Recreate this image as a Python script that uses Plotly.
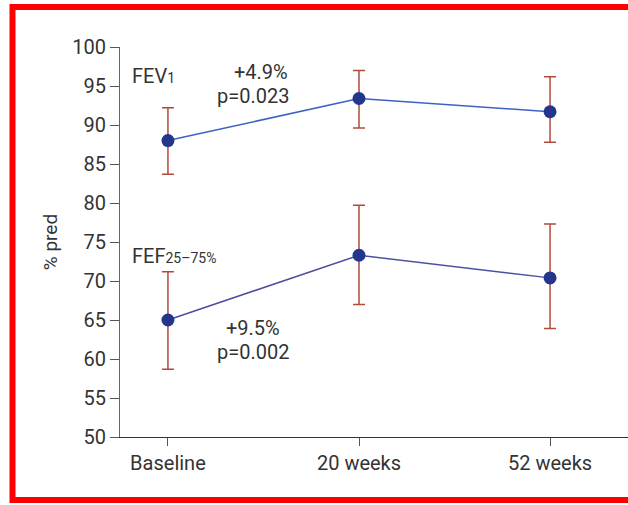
import plotly.graph_objects as go

categories = ["Baseline", "20 weeks", "52 weeks"]
fev1 = [88.0, 93.4, 91.7]
fev1_hi = [92.2, 97.0, 96.2]
fev1_lo = [83.7, 89.6, 87.8]
fef = [65.0, 73.3, 70.4]
fef_hi = [71.2, 79.7, 77.3]
fef_lo = [58.7, 67.0, 63.9]
yticks = [50, 55, 60, 65, 70, 75, 80, 85, 90, 95, 100]

FONT = "Roboto"
ERR = "#b24a3c"
MARK = "#24368c"
TXT = "#333333"

def err(vals, hi, lo, col):
    return dict(type="data", symmetric=False,
                array=[h - v for h, v in zip(hi, vals)],
                arrayminus=[v - l for v, l in zip(vals, lo)],
                color=col, thickness=1.5, width=6)

fig = go.Figure()
fig.add_trace(go.Scatter(x=categories, y=fev1, mode="lines+markers",
                         line=dict(color="#3d62c4", width=1.5),
                         marker=dict(color=MARK, size=13),
                         error_y=err(fev1, fev1_hi, fev1_lo, ERR), showlegend=False))
fig.add_trace(go.Scatter(x=categories, y=fef, mode="lines+markers",
                         line=dict(color="#4d50a0", width=1.5),
                         marker=dict(color=MARK, size=13),
                         error_y=err(fef, fef_hi, fef_lo, ERR), showlegend=False))

L, R, T, B = 120, 0, 47, 68
W, H = 628, 505
pw, ph = W - L - R, H - T - B

def px(x):
    return (x - L) / pw

def py(y):
    return (H - B - y) / ph

fig.update_layout(
    width=W, height=H,
    margin=dict(l=L, r=R, t=T, b=B),
    paper_bgcolor="white", plot_bgcolor="white",
    font=dict(family=FONT, color=TXT, size=20),
    xaxis=dict(type="category", range=[-0.251, 2.408], showgrid=False,
               showline=True, linecolor="#333333", linewidth=1.2,
               ticks="outside", ticklen=8, tickcolor="#555555", tickwidth=1.2,
               tickfont=dict(size=20, color=TXT), zeroline=False),
    yaxis=dict(range=[50, 100], tickvals=yticks, showgrid=False,
               showline=True, linecolor="#666666", linewidth=1.2,
               ticks="outside", ticklen=9, tickcolor="#555555", tickwidth=1.2,
               tickfont=dict(size=20, color=TXT), zeroline=False,
               title=dict(text="% pred", font=dict(size=19, color=TXT), standoff=9)),
    shapes=[dict(type="rect", xref="paper", yref="paper",
                 x0=px(12.5), x1=px(640), y0=py(500), y1=py(7),
                 line=dict(color="#ff0000", width=6), fillcolor="rgba(0,0,0,0)")],
)

ann = [
    ("FEV<span style='font-size:14px'>1</span>", 130, 76, "left"),
    ("+4.9%", 261, 72, "center"),
    ("p=0.023", 253, 96, "center"),
    ("FEF<span style='font-size:14px'>25–75%</span>", 130, 256, "left"),
    ("+9.5%", 253, 328, "center"),
    ("p=0.002", 253, 352, "center"),
]
for text, x, y, align in ann:
    fig.add_annotation(text=text, xref="paper", yref="paper", x=px(x), y=py(y),
                       xanchor=align, yanchor="middle", showarrow=False,
                       font=dict(size=20, color=TXT, family=FONT))

fig.write_html("out.html")
